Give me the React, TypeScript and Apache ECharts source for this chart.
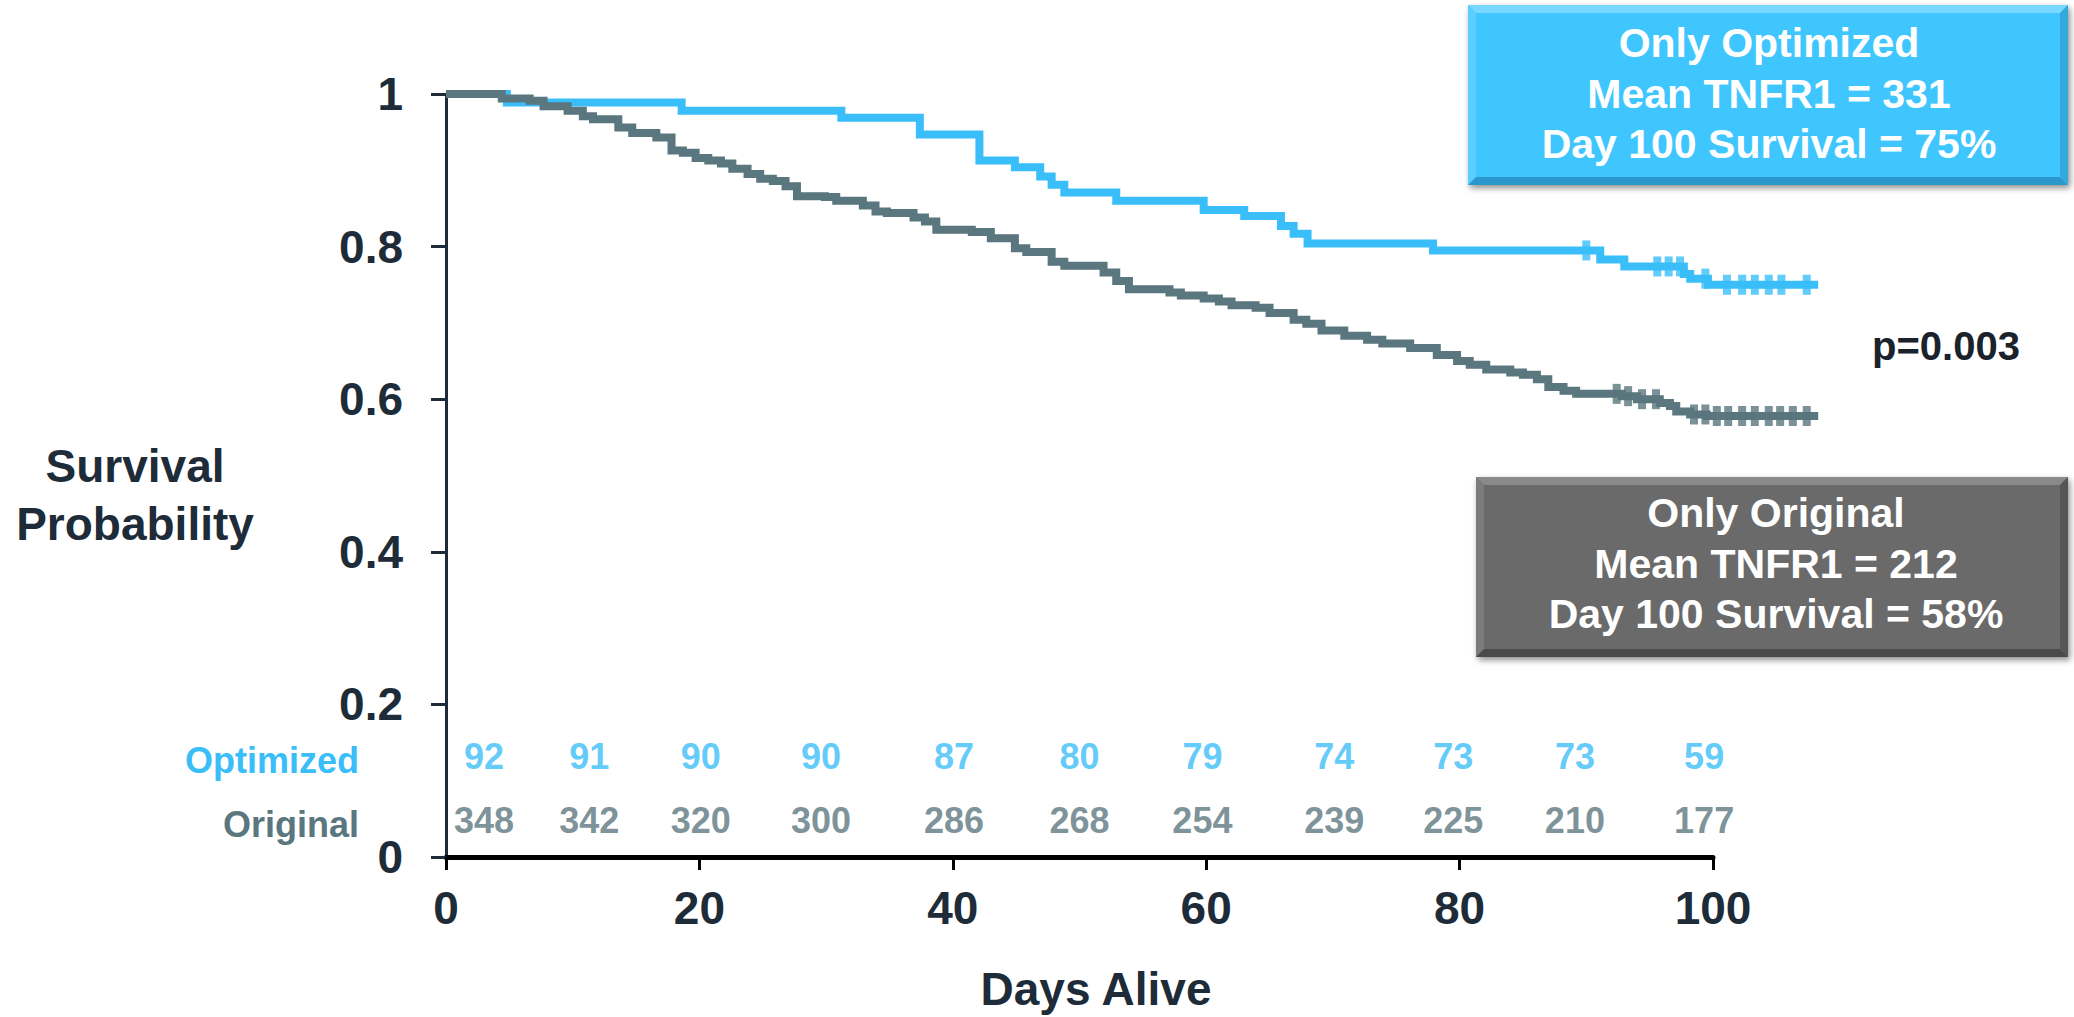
import React, { useEffect, useRef } from "react";
import * as echarts from "echarts";

const FONT = '"Liberation Sans", Arial, Helvetica, sans-serif';
const BLUE = "#3ABEF9";
const SLATE = "#5A767E";
const NAVY = "#1E2B38";

// Kaplan-Meier step points [day, survival probability]
const optimizedCurve: number[][] = [
  [0, 1.0], [4.8, 0.989], [18.6, 0.978], [31.2, 0.969], [37.4, 0.947],
  [42.1, 0.913], [44.9, 0.904], [46.9, 0.892], [47.8, 0.881], [48.8, 0.871],
  [52.9, 0.86], [59.8, 0.848], [63.0, 0.84], [65.9, 0.827], [66.9, 0.817],
  [68.0, 0.804], [77.9, 0.795], [91.1, 0.783], [93.0, 0.774], [97.7, 0.764],
  [98.2, 0.758], [99.6, 0.75], [108.3, 0.75],
];

const originalCurve: number[][] = [
  [0, 1.0], [4.4, 0.994], [6.6, 0.991], [7.7, 0.984], [9.6, 0.978],
  [10.8, 0.971], [11.6, 0.967], [13.6, 0.956], [14.7, 0.949], [16.6, 0.943],
  [17.8, 0.926], [18.7, 0.923], [19.7, 0.916], [20.7, 0.913], [21.7, 0.909],
  [22.6, 0.902], [23.8, 0.895], [24.8, 0.889], [25.8, 0.886], [26.8, 0.879],
  [27.7, 0.866], [29.9, 0.865], [30.8, 0.86], [32.9, 0.854], [33.9, 0.846],
  [34.8, 0.844], [36.9, 0.838], [37.8, 0.833], [38.7, 0.822], [41.5, 0.819],
  [43.0, 0.811], [44.9, 0.798], [45.8, 0.793], [47.8, 0.78], [48.8, 0.775],
  [51.9, 0.766], [52.9, 0.755], [53.9, 0.744], [57.1, 0.74], [58.0, 0.736],
  [59.8, 0.732], [61.0, 0.728], [62.0, 0.723], [63.9, 0.72], [65.0, 0.713],
  [66.9, 0.704], [67.9, 0.699], [69.1, 0.69], [70.9, 0.683], [72.7, 0.678],
  [73.9, 0.673], [76.1, 0.667], [78.2, 0.658], [79.8, 0.65], [80.8, 0.645],
  [82.1, 0.639], [84.0, 0.635], [85.0, 0.632], [86.1, 0.626], [87.0, 0.616],
  [88.2, 0.611], [89.2, 0.607], [92.8, 0.604], [94.0, 0.6], [95.8, 0.595],
  [96.6, 0.591], [97.1, 0.584], [98.2, 0.58], [99.5, 0.578], [108.3, 0.578],
];

// Censoring marks [day, survival]
const optimizedCensor: number[][] = [
  [90.0, 0.795], [95.6, 0.774], [96.5, 0.774], [97.4, 0.774], [99.4, 0.758],
  [101.1, 0.75], [102.3, 0.75], [103.3, 0.75], [104.4, 0.75], [105.4, 0.75], [107.4, 0.75],
];
const originalCensor: number[][] = [
  [92.4, 0.607], [93.3, 0.604], [94.4, 0.6], [95.5, 0.6], [98.5, 0.58], [99.4, 0.58],
  [100.3, 0.578], [101.2, 0.578], [102.3, 0.578], [103.3, 0.578], [104.4, 0.578],
  [105.3, 0.578], [106.3, 0.578], [107.4, 0.578],
];

// Numbers at risk
const riskDays = [3, 11.3, 20.1, 29.6, 40.1, 50, 59.7, 70.1, 79.5, 89.1, 99.3];
const optimizedAtRisk = [92, 91, 90, 90, 87, 80, 79, 74, 73, 73, 59];
const originalAtRisk = [348, 342, 320, 300, 286, 268, 254, 239, 225, 210, 177];

const yTicks = [0, 0.2, 0.4, 0.6, 0.8, 1];
const xTicks = [0, 20, 40, 60, 80, 100];
const CURVE_X_MAX = 110; // curves run past the last labelled day

const optimizedBox = ["Only Optimized", "Mean TNFR1 = 331", "Day 100 Survival = 75%"];
const originalBox = ["Only Original", "Mean TNFR1 = 212", "Day 100 Survival = 58%"];

const OPT_ROW = 0.132;
const ORIG_ROW = 0.048;

// layout
const PAGE_W = 2074;
const G_LEFT = 446;
const G_RIGHT = 361;
const G_TOP = 94;
const G_BOTTOM = 160;
const G_W = PAGE_W - G_LEFT - G_RIGHT;
const G2_RIGHT = PAGE_W - G_LEFT - (G_W * CURVE_X_MAX) / xTicks[xTicks.length - 1];

function bevelBox(
  x0: number, y0: number, x1: number, y1: number, b: number,
  c: { main: string; top: string; left: string; bottom: string; right: string },
  lines: string[], cx: number, cys: number[]
) {
  const children: any[] = [
    {
      type: "rect",
      shape: { x: x0, y: y0, width: x1 - x0, height: y1 - y0 },
      style: { fill: c.main, shadowBlur: 6, shadowOffsetX: 2, shadowOffsetY: 3, shadowColor: "rgba(0,0,0,0.45)" },
    },
    { type: "polygon", shape: { points: [[x0, y0], [x1, y0], [x1 - b, y0 + b], [x0 + b, y0 + b]] }, style: { fill: c.top } },
    { type: "polygon", shape: { points: [[x0, y0], [x0 + b, y0 + b], [x0 + b, y1 - b], [x0, y1]] }, style: { fill: c.left } },
    { type: "polygon", shape: { points: [[x0, y1], [x0 + b, y1 - b], [x1 - b, y1 - b], [x1, y1]] }, style: { fill: c.bottom } },
    { type: "polygon", shape: { points: [[x1, y0], [x1, y1], [x1 - b, y1 - b], [x1 - b, y0 + b]] }, style: { fill: c.right } },
  ];
  lines.forEach((t, i) => {
    children.push({
      type: "text",
      x: cx,
      y: cys[i],
      style: { text: t, fill: "#FFFFFF", font: `bold 41px ${FONT}`, align: "center", verticalAlign: "middle" },
    });
  });
  return { type: "group", children };
}

function text(t: string, x: number, y: number, size: number, color: string, align = "center") {
  return {
    type: "text",
    x,
    y,
    style: { text: t, fill: color, font: `bold ${size}px ${FONT}`, align, verticalAlign: "middle" },
  };
}

export default function App() {
  const ref = useRef<HTMLDivElement>(null);
  useEffect(() => {
    document.body.style.margin = "0";
    const chart = echarts.init(ref.current!, null, { renderer: "svg" });
    const riskLabel = (color: string) => ({
      show: true,
      position: "inside",
      formatter: (p: any) => String(p.value[2]),
      fontSize: 36,
      fontWeight: "bold",
      fontFamily: FONT,
      color,
    });
    const option: any = {
      animation: false,
      backgroundColor: "#FFFFFF",
      grid: [
        { left: G_LEFT, right: G_RIGHT, top: G_TOP, bottom: G_BOTTOM, containLabel: false, outerBoundsMode: "none" },
        { left: G_LEFT, right: G2_RIGHT, top: G_TOP, bottom: G_BOTTOM, containLabel: false, outerBoundsMode: "none" },
      ],
      xAxis: [
        {
          type: "value",
          gridIndex: 0,
          min: xTicks[0],
          max: xTicks[xTicks.length - 1],
          interval: 20,
          axisLine: { show: true, lineStyle: { color: "#000000", width: 5 } },
          axisTick: { show: true, length: 13, lineStyle: { color: "#000000", width: 3 } },
          axisLabel: { fontSize: 46, fontWeight: "bold", color: NAVY, margin: 28, fontFamily: FONT },
          splitLine: { show: false },
        },
        {
          type: "value",
          gridIndex: 1,
          min: 0,
          max: CURVE_X_MAX,
          show: false,
          splitLine: { show: false },
        },
      ],
      yAxis: [
        {
          type: "value",
          gridIndex: 0,
          min: yTicks[0],
          max: yTicks[yTicks.length - 1],
          interval: 0.2,
          axisLine: { show: true, lineStyle: { color: NAVY, width: 3 } },
          axisTick: { show: true, length: 15, lineStyle: { color: NAVY, width: 3 } },
          axisLabel: {
            fontSize: 46,
            fontWeight: "bold",
            color: NAVY,
            margin: 43,
            fontFamily: FONT,
            formatter: (v: number) => (v === 0 ? "0" : v === 1 ? "1" : v.toFixed(1)),
          },
          splitLine: { show: false },
        },
        {
          type: "value",
          gridIndex: 1,
          min: yTicks[0],
          max: yTicks[yTicks.length - 1],
          show: false,
          splitLine: { show: false },
        },
      ],
      series: [
        {
          type: "line",
          xAxisIndex: 1,
          yAxisIndex: 1,
          step: "end",
          data: optimizedCurve,
          symbol: "none",
          clip: false,
          z: 2,
          lineStyle: { color: BLUE, width: 8, cap: "butt", join: "miter" },
        },
        {
          type: "scatter",
          xAxisIndex: 1,
          yAxisIndex: 1,
          data: optimizedCensor,
          symbol: "rect",
          symbolSize: [8, 20],
          clip: false,
          z: 2,
          itemStyle: { color: BLUE },
        },
        {
          type: "line",
          xAxisIndex: 1,
          yAxisIndex: 1,
          step: "end",
          data: originalCurve,
          symbol: "none",
          clip: false,
          z: 3,
          lineStyle: { color: SLATE, width: 8, cap: "butt", join: "miter" },
        },
        {
          type: "scatter",
          xAxisIndex: 1,
          yAxisIndex: 1,
          data: originalCensor,
          symbol: "rect",
          symbolSize: [8, 20],
          clip: false,
          z: 3,
          itemStyle: { color: SLATE },
        },
        {
          type: "scatter",
          data: riskDays.map((d, i) => [d, OPT_ROW, optimizedAtRisk[i]]),
          symbolSize: 1,
          itemStyle: { color: "rgba(0,0,0,0)" },
          clip: false,
          label: riskLabel(BLUE),
        },
        {
          type: "scatter",
          data: riskDays.map((d, i) => [d, ORIG_ROW, originalAtRisk[i]]),
          symbolSize: 1,
          itemStyle: { color: "rgba(0,0,0,0)" },
          clip: false,
          label: riskLabel(SLATE),
        },
      ],
      graphic: [
        text("Survival", 135, 466, 46, NAVY),
        text("Probability", 135, 524, 46, NAVY),
        text("Days Alive", 1096, 989, 46, NAVY),
        text("Optimized", 359, 760, 36, BLUE, "right"),
        text("Original", 359, 824, 36, SLATE, "right"),
        text("p=0.003", 1872, 346, 40, "#1A222B", "left"),
        bevelBox(1468, 5, 2068, 185, 8,
          { main: "#40C6FE", top: "#78D8FF", left: "#5ACEFF", bottom: "#2A98CC", right: "#32A8DC" },
          optimizedBox, 1769, [42.6, 93.6, 143.6]),
        bevelBox(1476, 477, 2068, 657, 8,
          { main: "#6B6B6B", top: "#8A8A8A", left: "#7C7C7C", bottom: "#4A4A4A", right: "#565656" },
          originalBox, 1776, [512.6, 563.6, 613.6]),
      ],
    };
    chart.setOption(option);
    return () => chart.dispose();
  }, []);
  return (
    <div
      ref={ref}
      style={{ position: "absolute", left: 0, top: 0, width: PAGE_W, height: 1017 }}
    />
  );
}
